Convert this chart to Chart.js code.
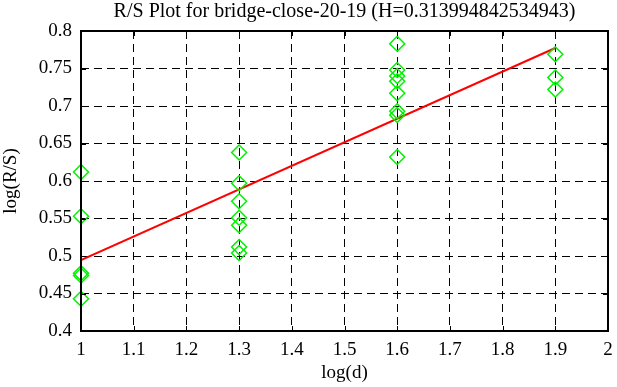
<!DOCTYPE html>
<html>
<head>
<meta charset="utf-8">
<script src="https://cdn.jsdelivr.net/npm/chart.js@4/dist/chart.umd.min.js"></script>
<style>
  html, body { margin: 0; padding: 0; background: #fff; }
  #wrap { width: 617px; height: 387px; }
</style>
</head>
<body>
<div id="wrap"><canvas id="rsChart"></canvas></div>
<script>
// log(d) of each R/S sample and its log(R/S)
var logD = [1, 1, 1, 1, 1,
            1.3, 1.3, 1.3, 1.3, 1.3, 1.3, 1.3,
            1.6, 1.6, 1.6, 1.6, 1.6, 1.6, 1.6, 1.6,
            1.9, 1.9, 1.9];
var logRS = [0.612, 0.553, 0.477, 0.474, 0.443,
             0.638, 0.597, 0.573, 0.551, 0.541, 0.512, 0.504,
             0.783, 0.748, 0.740, 0.733, 0.717, 0.693, 0.688, 0.632,
             0.769, 0.738, 0.722];

// fitted line end points (slope = H)
var fitX = [1, 1.9];
var fitY = [0.4947, 0.7773];

var serif = "'Liberation Serif', 'DejaVu Serif', serif";

var points = logD.map(function (d, i) { return { x: d, y: logRS[i] }; });
var fit = fitX.map(function (d, i) { return { x: d, y: fitY[i] }; });

// box round the plot area + little inside ticks
var frame = {
    id: 'frame',
    afterDatasetsDraw: function (chart) {
        var ctx = chart.ctx, a = chart.chartArea;
        var xs = chart.scales.x, ys = chart.scales.y;
        ctx.save();
        ctx.strokeStyle = '#000';
        ctx.lineWidth = 1;
        ctx.setLineDash([]);
        ctx.beginPath();
        xs.ticks.forEach(function (t) {
            var px = Math.round(xs.getPixelForValue(t.value)) + 0.5;
            ctx.moveTo(px, a.bottom); ctx.lineTo(px, a.bottom - 5);
            ctx.moveTo(px, a.top); ctx.lineTo(px, a.top + 5);
        });
        ys.ticks.forEach(function (t) {
            var py = Math.round(ys.getPixelForValue(t.value)) + 0.5;
            ctx.moveTo(a.left, py); ctx.lineTo(a.left + 5, py);
            ctx.moveTo(a.right, py); ctx.lineTo(a.right - 5, py);
        });
        ctx.stroke();
        ctx.lineWidth = 2;
        ctx.strokeRect(a.left, a.top, a.right - a.left, a.bottom - a.top);
        ctx.restore();
    }
};

new Chart(document.getElementById('rsChart'), {
    type: 'scatter',
    data: {
        datasets: [
            {
                data: points,
                pointStyle: 'rectRot',
                pointRadius: 7.5,
                pointHoverRadius: 7.5,
                borderColor: '#00f000',
                backgroundColor: 'rgba(0,0,0,0)',
                pointBorderWidth: 1.5,
                clip: false,
            },
            {
                type: 'line',
                data: fit,
                borderColor: '#ff0000',
                borderWidth: 2,
                pointRadius: 0,
                fill: false,
            },
        ],
    },
    options: {
        responsive: true,
        maintainAspectRatio: false,
        animation: false,
        layout: { padding: { left: 0, right: 0, top: 0, bottom: 0 } },
        plugins: {
            legend: { display: false },
            tooltip: { enabled: false },
            title: {
                display: true,
                fullSize: false,
                text: 'R/S Plot for bridge-close-20-19 (H=0.313994842534943)',
                color: '#000',
                font: { family: serif, size: 20, weight: 'normal' },
                padding: { top: 0, bottom: 7 },
            },
        },
        scales: {
            x: {
                type: 'linear',
                min: 1,
                max: 2,
                afterFit: function (s) { s.height = 56; s.paddingRight = 8; },
                ticks: {
                    stepSize: 0.1,
                    color: '#000',
                    padding: 8,
                    font: { family: serif, size: 19 },
                    callback: function (v) { return String(+v.toFixed(2)); },
                },
                grid: { color: '#000', lineWidth: 1, drawTicks: false },
                border: { display: false, dash: [8, 5] },
                title: {
                    display: true,
                    text: 'log(d)',
                    color: '#000',
                    font: { family: serif, size: 19 },
                    padding: { top: 0, bottom: 3 },
                },
            },
            y: {
                type: 'linear',
                min: 0.4,
                max: 0.8,
                afterFit: function (s) { s.width = 81; },
                ticks: {
                    stepSize: 0.05,
                    color: '#000',
                    padding: 9,
                    font: { family: serif, size: 19 },
                    callback: function (v) { return String(+v.toFixed(2)); },
                },
                grid: { color: '#000', lineWidth: 1, drawTicks: false },
                border: { display: false, dash: [8, 5] },
                title: {
                    display: true,
                    text: 'log(R/S)',
                    color: '#000',
                    font: { family: serif, size: 19 },
                    padding: { top: 0, bottom: 2 },
                },
            },
        },
    },
    plugins: [frame],
});
</script>
</body>
</html>
